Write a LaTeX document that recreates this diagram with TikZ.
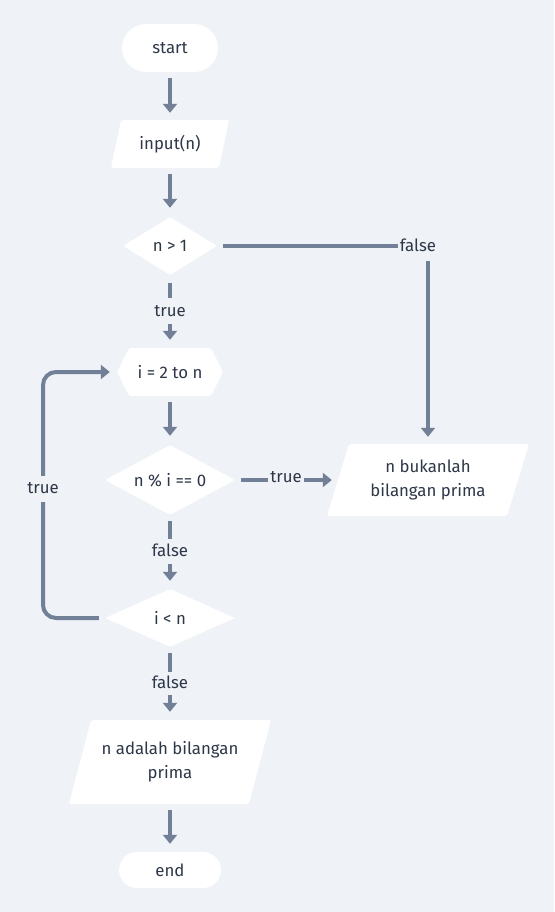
\documentclass[tikz,border=0pt]{standalone}
\usepackage{fontspec}
\setmainfont{Fira Sans}
\usetikzlibrary{arrows.meta,shapes.geometric}
\definecolor{bg}{HTML}{EFF2F6}
\definecolor{ln}{HTML}{718096}
\definecolor{tx}{HTML}{2D3748}
\begin{document}
\begin{tikzpicture}[x=1pt,y=-1pt,
  font=\fontsize{16.8}{24}\selectfont, text=tx,
  lab/.style={inner sep=2pt, text height=12pt, text depth=3pt},
  conn/.style={draw=ln, line width=4pt},
  arr/.style={conn, -{Triangle[width=14pt,length=9pt]}},
  term/.style={fill=white, inner sep=0pt},
  dec/.style={diamond, fill=white, inner sep=0pt, aspect=2, rounded corners=2pt},
  boxarea/.style={inner sep=0pt, align=center}]
\fill[bg] (0,0) rectangle (554,912);
\useasboundingbox (0,0) rectangle (554,912);

% shapes
\node[term, rounded corners=24pt, minimum width=96pt, minimum height=48pt] (start) at (170,48) {start};

\fill[white, rounded corners=2pt] (121,120) -- (229,120) -- (219,168) -- (111,168) -- cycle;
\node[boxarea, minimum width=108pt, minimum height=48pt] (input) at (170,144) {input(n)};

\node[dec, minimum width=94pt, minimum height=58pt] (c1) at (170,246) {n > 1};

\fill[white, rounded corners=2pt] (117,372) -- (129,348) -- (211,348) -- (223,372) -- (211,396) -- (129,396) -- cycle;
\node[boxarea, minimum width=106pt, minimum height=48pt] (loop) at (170,372) {i = 2 to n};

\node[dec, minimum width=130pt, minimum height=70pt] (c2) at (170,480) {n \% i == 0};

\fill[white, rounded corners=2pt] (349,444) -- (529,444) -- (507,516) -- (327,516) -- cycle;
\node[boxarea, minimum width=180pt, minimum height=72pt] (bukan) at (428,480) {n bukanlah\\bilangan prima};

\node[dec, minimum width=130pt, minimum height=58pt] (c3) at (170,618) {i < n};

\fill[white, rounded corners=2pt] (91,720) -- (271,720) -- (249,804) -- (69,804) -- cycle;
\node[boxarea, minimum width=180pt, minimum height=84pt] (adalah) at (170,762) {n adalah bilangan\\prima};

\node[term, rounded corners=18pt, minimum width=102pt, minimum height=36pt] (end) at (170,870) {end};

% labels
\node[lab] (t1) at (170,312) {true};
\node[lab] (f1) at (418,247) {false};
\node[lab] (t2) at (286,477.5) {true};
\node[lab] (f2) at (170,552) {false};
\node[lab] (t3) at (43,489) {true};
\node[lab] (f3) at (170,684) {false};

% connectors
\draw[arr, shorten <=6pt, shorten >=7pt] (start) -- (input);
\draw[arr, shorten <=6pt, shorten >=9pt] (input) -- (c1);
\draw[conn, shorten <=8pt, shorten >=4.5pt] (c1) -- (t1);
\draw[arr, shorten <=2.5pt, shorten >=8pt] (t1) -- (loop);
\draw[conn, shorten <=6pt] (c1.east) -- (c1.east -| f1.west);
\draw[arr, shorten <=4.5pt, shorten >=7pt] (f1.south -| bukan.north) -- (bukan.north);
\draw[arr, shorten <=6pt, shorten >=9pt] (loop) -- (c2);
\draw[conn, shorten <=6pt] (c2.east) -- (c2.east -| t2.west);
\draw[arr, shorten >=6pt] (t2.east |- c2.east) -- (c2.east -| bukan.west);
\draw[conn, shorten <=6pt, shorten >=3.5pt] (c2) -- (f2);
\draw[arr, shorten <=2.5pt, shorten >=8pt] (f2) -- (c3);
\draw[conn, rounded corners=13pt, shorten <=6pt, shorten >=3.5pt] (c3.west) -| (t3.south);
\draw[arr, rounded corners=13pt, shorten <=3.5pt, shorten >=7pt] (t3.north) |- (loop.west);
\draw[conn, shorten <=6pt, shorten >=2.5pt] (c3) -- (f3);
\draw[arr, shorten <=1.5pt, shorten >=8pt] (f3) -- (adalah);
\draw[arr, shorten <=6pt, shorten >=8pt] (adalah) -- (end);
\end{tikzpicture}
\end{document}
